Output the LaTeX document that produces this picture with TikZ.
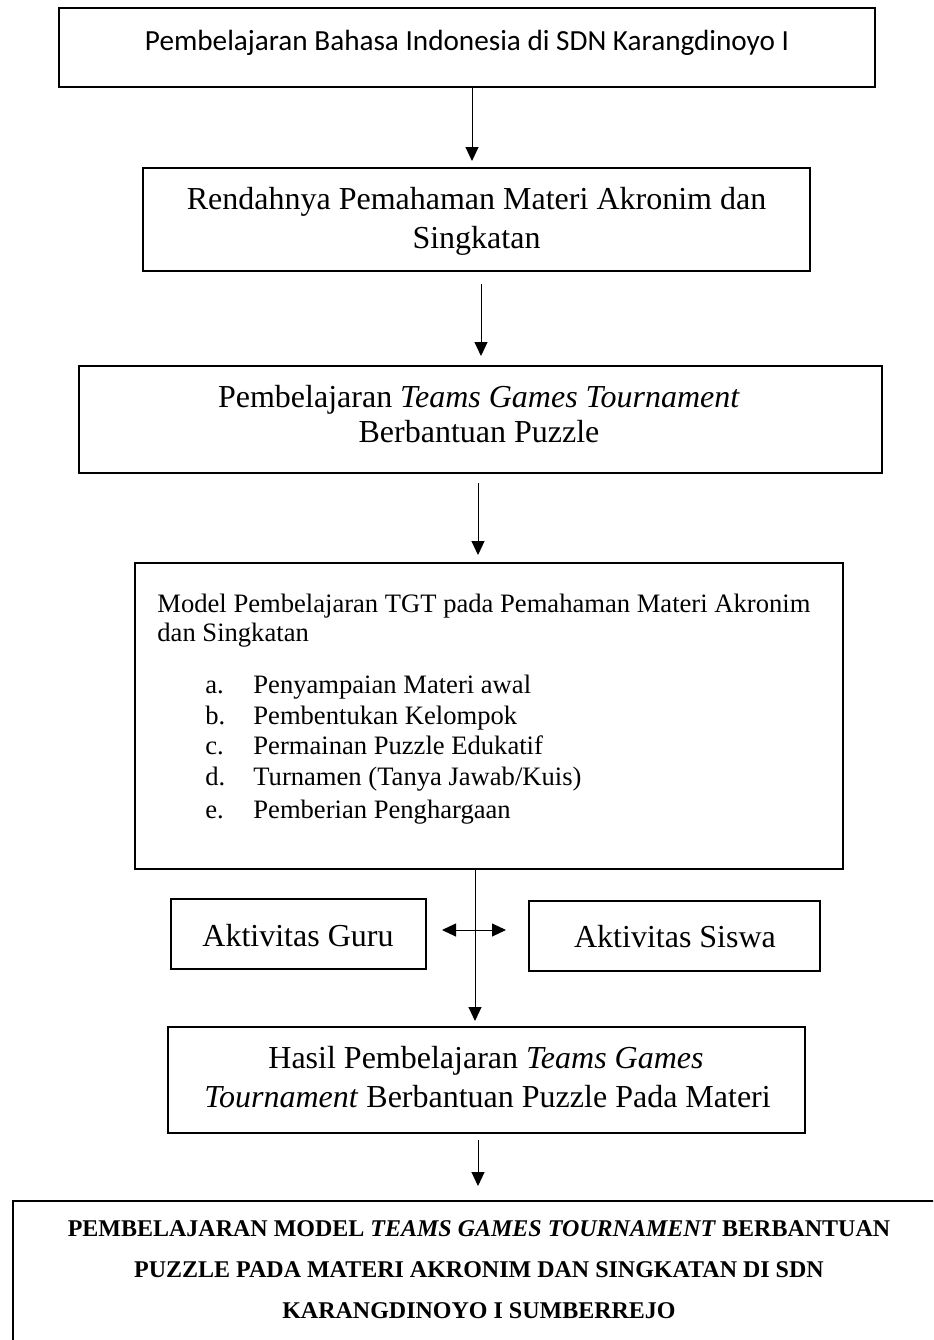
\documentclass[tikz,border=0pt]{standalone}
\usepackage{fontspec}
\setmainfont{Liberation Serif}
\newfontfamily\calibfont{Carlito}
\usetikzlibrary{arrows.meta}
\begin{document}
\begin{tikzpicture}[x=0.5pt,y=-0.5pt,
  box/.style={draw, line width=1pt, inner sep=0pt, rectangle},
  arr/.style={line width=0.5pt, -{Triangle[length=7pt,width=6.5pt]}},
  dbl/.style={line width=0.5pt, {Triangle[length=7pt,width=6.5pt]}-{Triangle[length=7pt,width=6.5pt]}},
  txt/.style={inner sep=0pt, anchor=base, font=\fontsize{16}{19}\selectfont},
  txl/.style={inner sep=0pt, anchor=base west, font=\fontsize{13.3}{16}\selectfont},
  txb/.style={inner sep=0pt, anchor=base, font=\fontsize{12}{14}\selectfont\bfseries},
]
\useasboundingbox (0,0) rectangle (933,1340);
\clip (0,0) rectangle (933,1340);

% boxes
\node[box, minimum width=408pt, minimum height=39.5pt] (b1) at (467,47.5) {};
\node[box, minimum width=333.5pt, minimum height=51.5pt] (b2) at (476.5,219.5) {};
\node[box, minimum width=401.5pt, minimum height=53.5pt] (b3) at (480.5,419.5) {};
\node[box, minimum width=354pt, minimum height=153pt] (b4) at (489,716) {};
\node[box, minimum width=127.5pt, minimum height=35pt] (guru) at (298.5,934) {};
\node[box, minimum width=145.5pt, minimum height=35pt] (siswa) at (674.5,936) {};
\node[box, minimum width=318.5pt, minimum height=53pt] (hasil) at (486.5,1080) {};
\node[box, minimum width=468pt, minimum height=89pt] (final) at (481,1290) {};

% texts
\node[inner sep=0pt, anchor=base, font=\calibfont\fontsize{14.6}{17}\selectfont] (t1) at (467,50) {Pembelajaran Bahasa Indonesia di SDN Karangdinoyo I};

\node[txt] (t2a) at (476.5,209) {Rendahnya Pemahaman Materi Akronim dan};
\node[txt] (t2b) at (476.5,248) {Singkatan};

\node[txt] (t3a) at (479,407) {Pembelajaran \textit{Teams Games Tournament}};
\node[txt] (t3b) at (479,442) {Berbantuan Puzzle};

\node[txl] (t4a) at (157,612) {Model Pembelajaran TGT pada Pemahaman Materi Akronim};
\node[txl] (t4b) at (157,641) {dan Singkatan};
\node[txl] (la) at (205,693) {a.};
\node[txl] (ia) at (253,693) {Penyampaian Materi awal};
\node[txl] (lb) at (205,724) {b.};
\node[txl] (ib) at (253,724) {Pembentukan Kelompok};
\node[txl] (lc) at (205,754) {c.};
\node[txl] (ic) at (253,754) {Permainan Puzzle Edukatif};
\node[txl] (ld) at (205,785) {d.};
\node[txl] (id) at (253,785) {Turnamen (Tanya Jawab/Kuis)};
\node[txl] (le) at (205,818) {e.};
\node[txl] (ie) at (253,818) {Pemberian Penghargaan};

\node[txt] (tg) at (298,946) {Aktivitas Guru};
\node[txt] (ts) at (675,947) {Aktivitas Siswa};

\node[txt] (th1) at (486,1068) {Hasil Pembelajaran \textit{Teams Games}};
\node[txt] (th2) at (487.5,1107) {\textit{Tournament} Berbantuan Puzzle Pada Materi};

\node[txb] (tf1) at (479,1236) {PEMBELAJARAN MODEL \textit{TEAMS GAMES TOURNAMENT} BERBANTUAN};
\node[txb] (tf2) at (479,1277) {PUZZLE PADA MATERI AKRONIM DAN SINGKATAN DI SDN};
\node[txb] (tf3) at (479,1318) {KARANGDINOYO I SUMBERREJO};

% connectors
\draw[arr, shorten >=3pt] ([xshift=2.5pt]b1.south) -- ([xshift=-2.25pt]b2.north);
\draw[arr, shorten <=6pt, shorten >=4.5pt] ([xshift=2.25pt]b2.south) -- ([xshift=0.25pt]b3.north);
\draw[arr, shorten <=4.5pt, shorten >=3.5pt] ([xshift=-1.25pt]b3.south) -- ([xshift=-5.5pt]b4.north);
\draw[arr, shorten >=2.5pt] ([xshift=-7pt]b4.south) -- ([xshift=-5.75pt]hasil.north);
\draw[dbl, shorten <=7.5pt, shorten >=11pt] ([yshift=2pt]guru.east) -- ([yshift=3pt]siswa.west);
\draw[arr, shorten <=3pt, shorten >=7pt] ([xshift=-4.25pt]hasil.south) -- ([xshift=-1.5pt]final.north);
\end{tikzpicture}
\end{document}
